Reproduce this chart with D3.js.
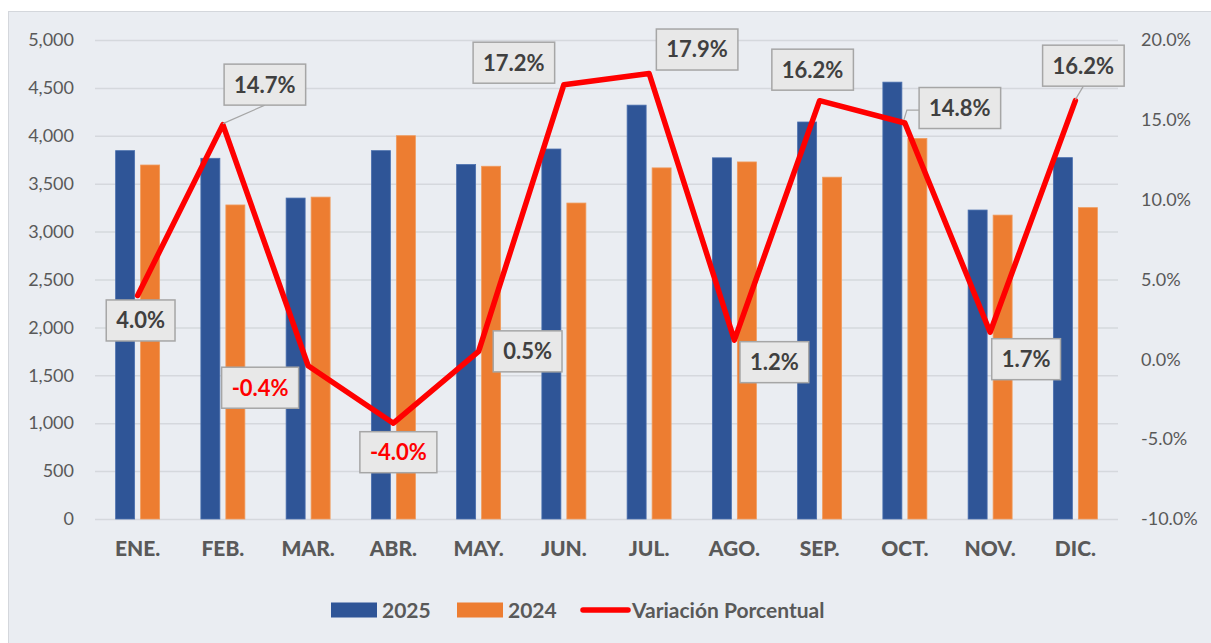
<!DOCTYPE html>
<html>
<head>
<meta charset="utf-8">
<script src="https://cdn.jsdelivr.net/npm/d3@7"></script>
<style>
  body { margin: 0; background: #ffffff; }
  svg { display: block; }
  text { font-family: Lato, "Open Sans", sans-serif; }
</style>
</head>
<body>
<script>
// data
var months = ["ENE.", "FEB.", "MAR.", "ABR.", "MAY.", "JUN.", "JUL.", "AGO.", "SEP.", "OCT.", "NOV.", "DIC."];
var values2025 = [3845, 3765, 3350, 3845, 3700, 3862, 4320, 3770, 4144, 4560, 3225, 3772];
var values2024 = [3695, 3278, 3360, 4001, 3682, 3298, 3665, 3727, 3568, 3972, 3172, 3250];
var variacion = [4.0, 14.7, -0.4, -4.0, 0.5, 17.2, 17.9, 1.2, 16.2, 14.8, 1.7, 16.2];
var leftTicks = [0, 500, 1000, 1500, 2000, 2500, 3000, 3500, 4000, 4500, 5000];
var rightTicks = [-10, -5, 0, 5, 10, 15, 20];
var seriesNames = ["2025", "2024"];

// where each data label box sits, relative to its point (layout only)
var labelPos = [
  {dx: 3, dy: 25}, {dx: 42, dy: -40, leader: "bottom"}, {dx: -48, dy: 22}, {dx: 5, dy: 29},
  {dx: 49, dy: 0}, {dx: -50, dy: -22}, {dx: 48, dy: -24}, {dx: 40, dy: 22},
  {dx: -7, dy: -31}, {dx: 55, dy: -15, leader: "left"}, {dx: 36, dy: 27}, {dx: 8, dy: -35, leader: "bottom"}
];

var W = 1211, H = 643;
var margin = {left: 95, right: 1118, top: 40, bottom: 519};
var colors = {"2025": "#2f5597", "2024": "#ed7d31"};

var svg = d3.select("body").append("svg")
    .attr("width", W)
    .attr("height", H);

// chart area background
svg.append("rect")
    .attr("x", 8.5).attr("y", 11.5)
    .attr("width", W).attr("height", H)
    .attr("fill", "#eaedf2")
    .attr("stroke", "#d4d7dc");

var x0 = d3.scaleBand().domain(months).range([margin.left, margin.right]).paddingInner(0.484).paddingOuter(0.242);
var x1 = d3.scaleBand().domain(seriesNames).range([0, x0.bandwidth()]).paddingInner(0.24);
var y = d3.scaleLinear().domain([0, 5000]).range([margin.bottom, margin.top]);
var y2 = d3.scaleLinear().domain([-10, 20]).range([margin.bottom, margin.top]);

// gridlines
svg.append("g")
    .attr("transform", "translate(" + margin.left + ",0)")
    .call(d3.axisLeft(y).tickValues(leftTicks).tickSize(-(margin.right - margin.left)).tickFormat(""))
    .call(g => g.select(".domain").remove())
    .call(g => g.selectAll("line").attr("stroke", "#d5d8dd").attr("stroke-width", 1.5));

// left axis labels
svg.append("g")
    .attr("transform", "translate(" + margin.left + ",0)")
    .call(d3.axisLeft(y).tickValues(leftTicks).tickSize(0).tickPadding(21).tickFormat(d3.format(",")))
    .call(g => g.select(".domain").remove())
    .call(g => g.selectAll("text").attr("fill", "#595959").style("font-size", "18px"));

// right axis labels
svg.append("g")
    .attr("transform", "translate(" + margin.right + ",0)")
    .call(d3.axisRight(y2).tickValues(rightTicks).tickSize(0).tickPadding(23).tickFormat(d => d.toFixed(1) + "%"))
    .call(g => g.select(".domain").remove())
    .call(g => g.selectAll("text").attr("fill", "#595959").style("font-size", "18px"));

// x axis labels
svg.append("g")
    .attr("transform", "translate(0," + margin.bottom + ")")
    .call(d3.axisBottom(x0).tickSize(0).tickPadding(22))
    .call(g => g.select(".domain").remove())
    .call(g => g.selectAll("text").attr("fill", "#595959").style("font-size", "21px").style("font-weight", "900"));

// bars
var rows = months.map((m, i) => ({month: m, "2025": values2025[i], "2024": values2024[i]}));
svg.append("g").selectAll("g")
  .data(rows)
  .join("g")
    .attr("transform", d => "translate(" + x0(d.month) + ",0)")
  .selectAll("rect")
  .data(d => seriesNames.map(s => ({key: s, value: d[s]})))
  .join("rect")
    .attr("x", d => x1(d.key))
    .attr("y", d => y(d.value))
    .attr("width", x1.bandwidth())
    .attr("height", d => y(0) - y(d.value))
    .attr("fill", d => colors[d.key])
    .attr("stroke", d => d.key == "2025" ? "#4a6fae" : "#f09a5c")
    .attr("stroke-width", 0.8);

// variation line
var cx = (d, i) => x0(months[i]) + x0.bandwidth() / 2;
var line = d3.line()
    .x(cx)
    .y(d => y2(d));

svg.append("path")
    .datum(variacion)
    .attr("fill", "none")
    .attr("stroke", "#ff0000")
    .attr("stroke-width", 5.5)
    .attr("stroke-linejoin", "round")
    .attr("stroke-linecap", "round")
    .attr("d", line);

// data labels
var labels = svg.append("g");
variacion.forEach(function(v, i) {
  var px = cx(v, i), py = y2(v);
  var p = labelPos[i];
  var bx = px + p.dx, by = py + p.dy;
  var g = labels.append("g");
  var rect = g.append("rect");
  var t = g.append("text")
      .attr("x", bx).attr("y", by)
      .attr("text-anchor", "middle")
      .attr("dy", "0.36em")
      .attr("fill", v < 0 ? "#ff0000" : "#404040")
      .style("font-size", "22px")
      .style("font-weight", "bold")
      .text(v.toFixed(1) + "%");
  var tw = t.node().getComputedTextLength();
  var bw = tw + 20, bh = 41;
  rect.attr("x", bx - bw / 2).attr("y", by - bh / 2)
      .attr("width", bw).attr("height", bh)
      .attr("fill", "#e8e8e8")
      .attr("stroke", "#a6a6a6")
      .attr("stroke-width", 1.5);
  if (p.leader == "bottom") {
    labels.insert("path", ":first-child")
        .attr("d", "M" + px + "," + (py - 1) + "L" + bx + "," + (by + bh / 2))
        .attr("stroke", "#a6a6a6").attr("stroke-width", 1.2).attr("fill", "none");
  } else if (p.leader == "left") {
    labels.insert("path", ":first-child")
        .attr("d", "M" + (px - 1) + "," + (py - 3) + "L" + (px + 2) + "," + (by + 2) + "L" + (bx - bw / 2) + "," + (by + 2))
        .attr("stroke", "#a6a6a6").attr("stroke-width", 1.2).attr("fill", "none");
  }
});

// legend
var legend = svg.append("g").attr("transform", "translate(0,610)");
var legendItems = [
  {name: "2025", type: "rect", color: colors["2025"], x: 331},
  {name: "2024", type: "rect", color: colors["2024"], x: 457},
  {name: "Variación Porcentual", type: "line", color: "#ff0000", x: 581}
];
legendItems.forEach(function(d) {
  if (d.type == "rect") {
    legend.append("rect").attr("x", d.x).attr("y", -7.5).attr("width", 46).attr("height", 15).attr("fill", d.color);
  } else {
    legend.append("line").attr("x1", d.x + 2).attr("x2", d.x + 47).attr("y1", 0).attr("y2", 0)
        .attr("stroke", d.color).attr("stroke-width", 5.5).attr("stroke-linecap", "round");
  }
  legend.append("text")
      .attr("x", d.x + 51).attr("y", 0).attr("dy", "0.36em")
      .attr("fill", "#595959")
      .style("font-size", "21px").style("font-weight", "bold")
      .text(d.name);
});
</script>
</body>
</html>
